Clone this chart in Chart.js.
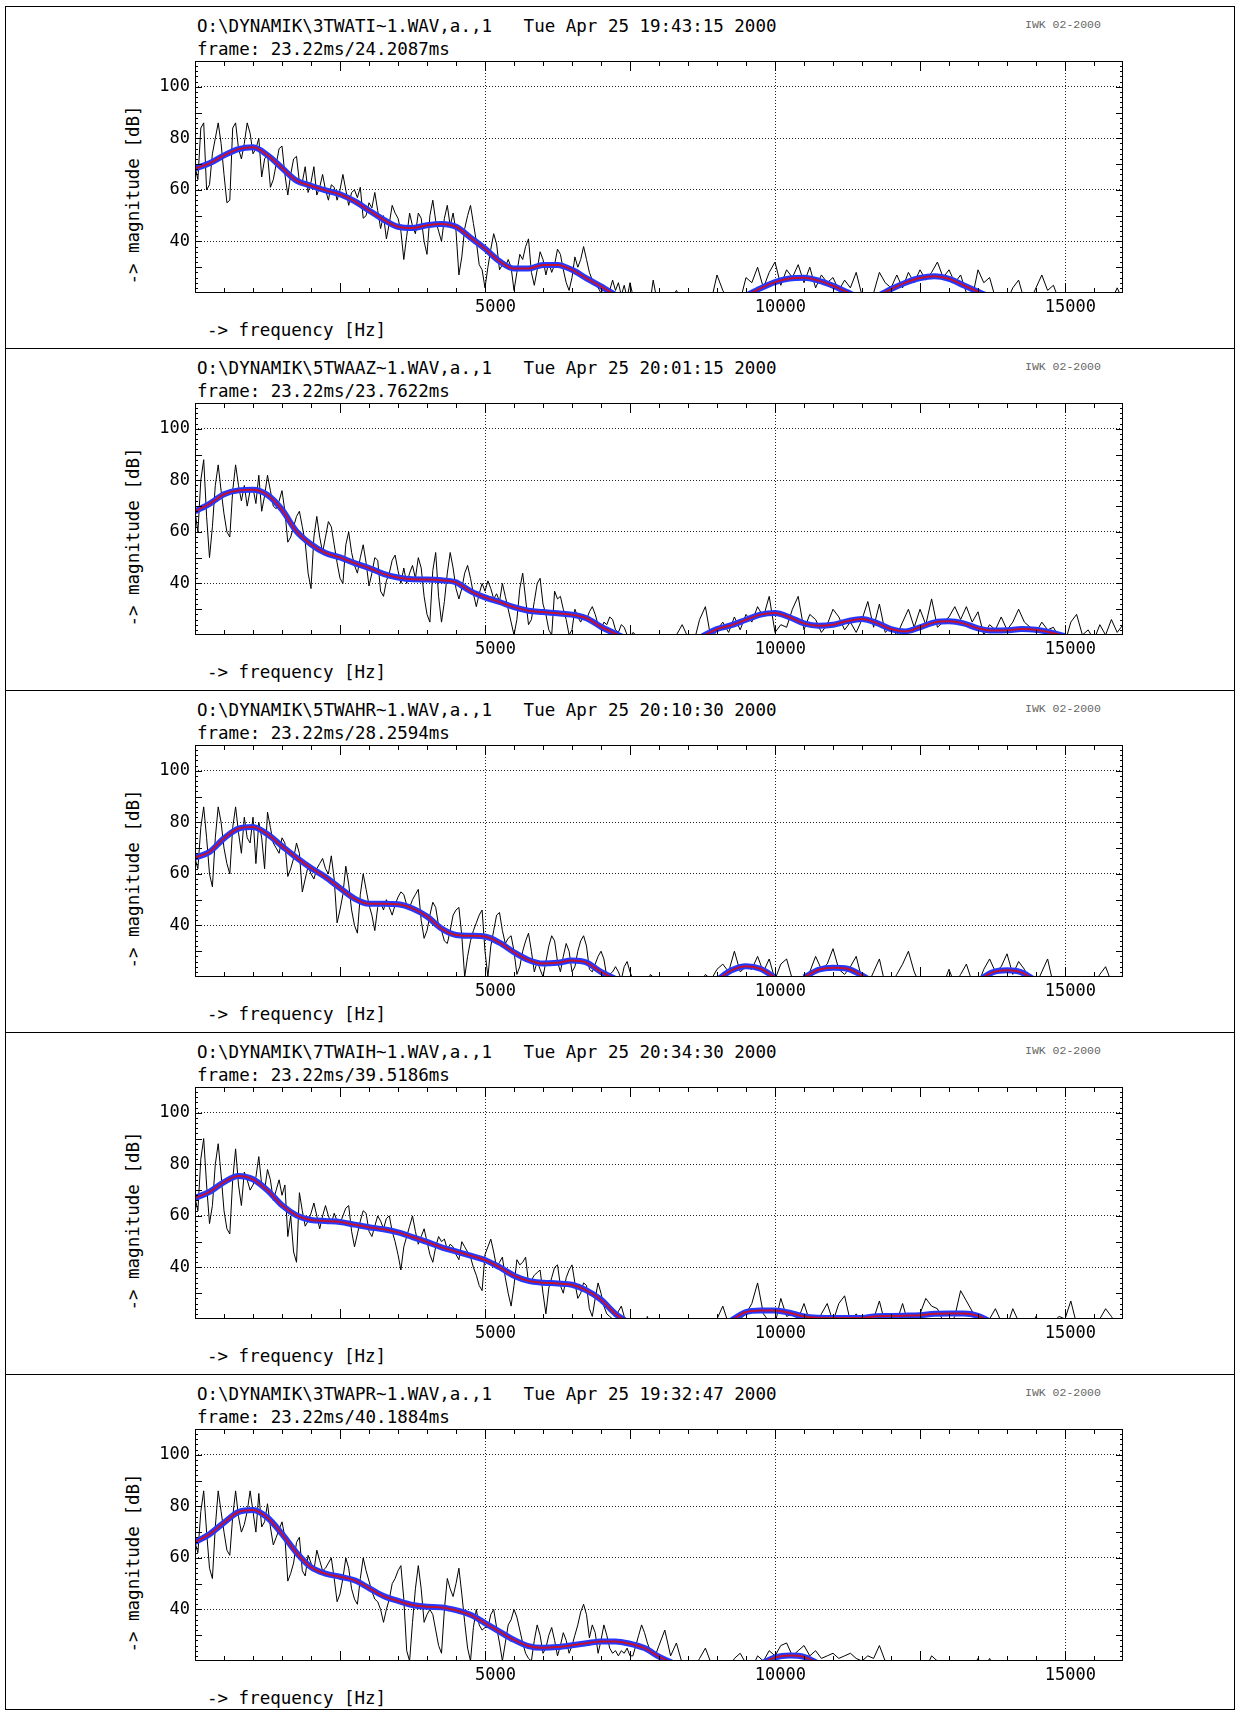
<!DOCTYPE html>
<html>
<head>
<meta charset="utf-8">
<script src="https://cdn.jsdelivr.net/npm/chart.js@4.4.0/dist/chart.umd.min.js"></script>
<style>
  body { margin: 0; background: #fff; }
  #page { position: relative; width: 1240px; height: 1711px; overflow: hidden; }
  .frame { position: absolute; left: 5px; top: 6px; width: 1230px; height: 1704px; border: 1px solid #000; box-sizing: border-box; }
  .sep { position: absolute; left: 5px; width: 1230px; height: 1px; background: #000; }
  .txt { position: absolute; font-family: 'DejaVu Sans Mono', monospace; font-size: 17.5px; line-height: 20px; white-space: pre; color: #000; }
  .iwk { position: absolute; font-family: 'Liberation Mono', monospace; font-size: 11.5px; line-height: 14px; color: #666; white-space: pre; }
  .ylab { width: 180px; text-align: center; transform: rotate(-90deg); }
  canvas { position: absolute; left: 0; }
</style>
</head>
<body>
<div id="page"><div class="frame"></div></div>
<script>
// spectrum: 50 Hz bins up to 8000 Hz, then 100 Hz bins from 8100 Hz
// envelope: every 250 Hz, null where it drops out
const LO_HZ = 50;
const HI_START = 8100;
const HI_HZ = 100;
const ENV_HZ = 250;

const xTicks = [5000, 10000, 15000];
const yTicks = [40, 60, 80, 100];

const files = [
  'O:\\DYNAMIK\\3TWATI~1.WAV,a.,1',
  'O:\\DYNAMIK\\5TWAAZ~1.WAV,a.,1',
  'O:\\DYNAMIK\\5TWAHR~1.WAV,a.,1',
  'O:\\DYNAMIK\\7TWAIH~1.WAV,a.,1',
  'O:\\DYNAMIK\\3TWAPR~1.WAV,a.,1'
];
const dates = [
  'Tue Apr 25 19:43:15 2000',
  'Tue Apr 25 20:01:15 2000',
  'Tue Apr 25 20:10:30 2000',
  'Tue Apr 25 20:34:30 2000',
  'Tue Apr 25 19:32:47 2000'
];
const frames = [
  'frame: 23.22ms/24.2087ms',
  'frame: 23.22ms/23.7622ms',
  'frame: 23.22ms/28.2594ms',
  'frame: 23.22ms/39.5186ms',
  'frame: 23.22ms/40.1884ms'
];

const lo1 = [
  69, 64, 84, 86, 60, 62, 74, 80, 86, 78,
  66, 55, 56, 84, 86, 76, 72, 78, 86, 82,
  74, 76, 80, 65, 72, 74, 61, 64, 70, 76,
  77, 66, 58, 66, 72, 73, 63, 63, 69, 59,
  63, 69, 58, 61, 66, 60, 56, 62, 61, 56,
  60, 66, 60, 54, 59, 60, 57, 61, 49, 50,
  55, 53, 59, 52, 45, 50, 41, 47, 54, 51,
  49, 44, 33, 42, 51, 46, 43, 51, 49, 40,
  35, 50, 56, 48, 44, 40, 49, 54, 46, 51,
  44, 27, 34, 45, 50, 54, 47, 40, 31, 29,
  22, 30, 37, 43, 39, 29, 31, 30, 33, 30,
  21, 28, 35, 33, 38, 41, 28, 23, 29, 36,
  33, 27, 32, 28, 31, 37, 35, 29, 24, 21,
  26, 34, 30, 33, 38, 33, 28, 25, 24, 22,
  20, 22, 19, 21, 25, 21, 24, 19, 23, 18,
  24, 19, 17, 17, 17, 20, 17, 17, 25, 19,
  17
];
const hi1 = [
      17, 17, 21, 17, 20, 17, 17, 17, 17,
  27, 21, 17, 17, 17, 26, 24, 30, 22, 28,
  32, 23, 29, 26, 31, 24, 30, 22, 27, 24,
  26, 21, 25, 22, 28, 19, 17, 20, 28, 24,
  22, 27, 22, 28, 24, 29, 25, 28, 32, 26,
  29, 24, 27, 20, 18, 29, 24, 26, 18, 17,
  17, 22, 25, 17, 17, 22, 27, 21, 23, 17,
  17, 17, 17, 17, 17, 17, 17, 17, 17, 22,
  17
];

const lo2 = [
  68, 60, 80, 88, 66, 50, 62, 78, 86, 76,
  67, 60, 58, 76, 86, 78, 72, 78, 70, 76,
  77, 71, 82, 68, 74, 82, 76, 70, 69, 72,
  76, 68, 56, 58, 62, 66, 68, 62, 56, 44,
  38, 58, 66, 58, 52, 58, 64, 62, 55, 48,
  42, 40, 55, 60, 52, 47, 44, 50, 55, 48,
  39, 44, 50, 49, 37, 35, 41, 44, 49, 51,
  45, 40, 46, 40, 44, 47, 42, 50, 46, 35,
  28, 25, 45, 52, 35, 25, 33, 44, 52, 46,
  38, 34, 38, 44, 47, 42, 36, 31, 36, 40,
  37, 41, 38, 34, 36, 33, 40, 35, 30, 25,
  20, 26, 38, 44, 34, 24, 26, 33, 40, 42,
  32, 28, 22, 20, 37, 34, 35, 30, 26, 20,
  22, 30, 27, 25, 28, 26, 29, 31, 28, 24,
  22, 25, 24, 27, 26, 22, 21, 24, 23, 20,
  19, 21, 20, 17, 17, 17, 17, 17, 17, 17,
  17
];
const hi2 = [
      17, 17, 20, 24, 19, 17, 26, 31, 18,
  22, 25, 21, 27, 22, 28, 25, 31, 27, 35,
  21, 24, 23, 30, 35, 22, 28, 26, 21, 24,
  30, 27, 22, 25, 21, 26, 33, 23, 32, 21,
  23, 20, 25, 30, 23, 30, 24, 34, 23, 25,
  27, 31, 26, 31, 25, 29, 20, 24, 22, 27,
  22, 25, 30, 25, 23, 21, 25, 22, 23, 19,
  17, 25, 28, 20, 22, 18, 24, 20, 26, 21,
  24
];

const lo3 = [
  66, 62, 78, 86, 74, 60, 55, 74, 86, 80,
  70, 64, 60, 78, 86, 76, 68, 82, 74, 72,
  82, 64, 80, 74, 62, 84, 78, 72, 70, 68,
  74, 72, 59, 62, 66, 72, 68, 53, 58, 63,
  60, 58, 62, 64, 66, 62, 60, 67, 58, 41,
  46, 52, 63, 56, 46, 40, 37, 52, 60, 54,
  48, 44, 38, 47, 49, 46, 50, 47, 44, 48,
  51, 53, 52, 48, 47, 50, 52, 54, 42, 35,
  38, 44, 49, 47, 40, 38, 34, 33, 38, 44,
  46, 47, 36, 20, 28, 34, 38, 41, 44, 46,
  30, 20, 32, 38, 44, 45, 38, 33, 35, 36,
  30, 21, 24, 30, 34, 37, 30, 22, 26, 23,
  20, 26, 32, 36, 34, 26, 22, 28, 33, 30,
  22, 24, 30, 34, 36, 32, 23, 22, 25, 28,
  30, 27, 20, 21, 22, 24, 22, 19, 24, 26,
  22, 19, 17, 17, 20, 17, 17, 21, 20, 17,
  17
];
const hi3 = [
      17, 17, 17, 17, 17, 17, 17, 21, 19,
  23, 25, 22, 30, 22, 24, 23, 28, 22, 27,
  19, 25, 27, 19, 17, 19, 22, 28, 23, 25,
  31, 23, 21, 24, 28, 19, 17, 22, 27, 17,
  17, 21, 25, 30, 22, 17, 17, 17, 17, 17,
  23, 17, 21, 25, 18, 17, 23, 27, 22, 24,
  29, 21, 26, 23, 18, 17, 22, 27, 17, 17,
  17, 17, 19, 17, 17, 17, 21, 24, 18, 17,
  21
];

const lo4 = [
  67, 62, 82, 90, 72, 57, 64, 80, 88, 76,
  62, 55, 53, 74, 86, 72, 64, 77, 74, 70,
  72, 75, 83, 72, 70, 78, 74, 66, 70, 74,
  68, 72, 52, 60, 46, 42, 69, 62, 56, 58,
  61, 65, 60, 55, 60, 64, 60, 57, 61, 58,
  57, 60, 63, 64, 54, 48, 53, 58, 62, 61,
  54, 52, 56, 60, 58, 55, 59, 60, 54, 50,
  45, 39, 48, 52, 56, 60, 54, 49, 52, 55,
  50, 45, 42, 48, 52, 50, 51, 47, 49, 48,
  45, 43, 50, 48, 46, 44, 40, 37, 33, 31,
  45, 48, 51, 46, 40, 42, 44, 36, 30, 25,
  33, 43, 41, 42, 44, 34, 35, 37, 38, 39,
  30, 22, 32, 36, 40, 41, 33, 30, 36, 39,
  41, 34, 28, 30, 34, 33, 24, 21, 28, 34,
  30, 25, 22, 21, 20, 19, 23, 25, 21, 19,
  17, 17, 17, 17, 17, 17, 21, 17, 17, 17,
  17
];
const hi4 = [
      17, 17, 20, 17, 17, 17, 17, 17, 17,
  20, 25, 18, 17, 20, 22, 26, 34, 22, 19,
  18, 28, 21, 22, 20, 26, 19, 17, 22, 26,
  19, 26, 29, 19, 22, 19, 17, 20, 27, 18,
  17, 19, 26, 18, 17, 22, 28, 25, 24, 19,
  17, 21, 31, 27, 23, 21, 18, 20, 24, 19,
  17, 24, 19, 17, 17, 21, 17, 17, 19, 21,
  20, 27, 18, 17, 17, 17, 20, 24, 21, 17,
  17
];

const lo5 = [
  66, 62, 78, 86, 70, 56, 52, 72, 86, 78,
  70, 63, 61, 76, 86, 76, 70, 73, 78, 86,
  78, 70, 85, 72, 74, 81, 72, 65, 68, 71,
  74, 68, 51, 54, 58, 66, 68, 55, 53, 61,
  58, 55, 63, 59, 55, 56, 58, 60, 52, 43,
  46, 52, 60, 56, 48, 44, 42, 52, 60, 55,
  51, 47, 44, 43, 40, 35, 40, 44, 50, 52,
  55, 57, 44, 24, 20, 35, 48, 57, 48, 35,
  38, 40, 38, 32, 26, 23, 40, 52, 48, 45,
  50, 56, 46, 35, 25, 20, 33, 40, 34, 32,
  33, 33, 38, 40, 33, 27, 20, 27, 34, 36,
  40, 37, 32, 27, 23, 21, 20, 28, 34, 30,
  23, 25, 30, 33, 28, 22, 26, 31, 28, 23,
  26, 30, 34, 39, 42, 38, 29, 34, 31, 23,
  28, 34, 30, 25, 23, 24, 22, 24, 23, 25,
  22, 22, 26, 30, 34, 31, 27, 24, 22, 23,
  26
];
const hi5 = [
      32, 22, 27, 19, 17, 17, 21, 25, 19,
  17, 17, 17, 21, 23, 19, 17, 22, 20, 24,
  22, 26, 27, 22, 24, 26, 22, 24, 21, 22,
  23, 21, 22, 23, 21, 20, 22, 21, 26, 20,
  18, 20, 18, 18, 17, 20, 17, 22, 20, 17,
  17, 17, 17, 17, 17, 21, 17, 21, 17, 17,
  17, 17, 17, 17, 17, 17, 17, 17, 17, 17,
  17, 17, 17, 17, 17, 17, 17, 17, 20, 17,
  17
];

const env1 = [
  68.3, 70.3, 73.4, 75.8, 76.5, 73.5, 68.5, 63.6, 61.6, 59.8,
  58.3, 55.6, 52.0, 48.5, 45.7, 45.2, 46.3, 46.8, 45.7, 41.5,
  37.2, 32.3, 29.5, 29.5, 30.9, 30.9, 29.0, 25.7, 22.6, 19.2,
  null, null, null, null, null, null, null, null, 19.0, 21.8,
  24.2, 25.6, 25.9, 24.8, 22.8, 20.3, 18.0, 18.8, 21.5, 24.0,
  25.8, 26.5, 25.5, 23.0, 20.5, 18.0, null, null, null, null,
  null, null, null, null, null
];
const env2 = [
  68.0, 70.9, 74.6, 76.1, 76.3, 74.3, 68.6, 60.2, 55.2, 51.8,
  50.1, 47.9, 46.0, 43.7, 42.3, 41.6, 41.5, 41.2, 40.4, 37.0,
  34.6, 32.8, 30.8, 29.4, 28.9, 28.4, 27.9, 26.5, 23.2, 20.5,
  18.0, null, null, null, null, 19.5, 22.3, 23.8, 25.9, 27.9,
  28.5, 26.9, 24.5, 23.6, 24.0, 25.4, 26.2, 24.7, 22.3, 21.4,
  23.0, 24.9, 25.3, 24.5, 22.6, 21.7, 21.8, 22.3, 22.0, 21.0,
  19.6, null, null, null, null
];
const env3 = [
  66.3, 68.5, 73.8, 77.6, 78.2, 75.4, 70.8, 66.3, 62.3, 58.8,
  54.5, 50.4, 48.4, 48.4, 48.2, 46.6, 43.5, 38.8, 36.3, 36.0,
  35.7, 33.3, 29.6, 26.6, 25.2, 25.5, 26.4, 25.6, 22.0, 19.2,
  null, null, null, null, null, null, 18.8, 22.6, 24.2, 23.2,
  19.8, null, 19.8, 22.8, 23.6, 23.2, 20.6, 17.0, null, null,
  null, null, null, null, 18.5, 21.8, 22.6, 21.8, 18.5, null,
  null, null, null, null, null
];
const env4 = [
  66.9, 69.3, 73.1, 75.5, 74.2, 69.9, 64.1, 60.2, 58.4, 58.0,
  57.6, 56.6, 55.6, 54.8, 53.6, 51.8, 49.9, 47.8, 46.2, 44.6,
  42.9, 40.1, 36.8, 34.8, 34.1, 33.8, 33.3, 31.1, 27.5, 22.0,
  18.0, null, null, null, null, null, null, 19.5, 22.7, 23.3,
  23.3, 22.4, 21.0, 20.5, 20.4, 20.4, 20.4, 21.1, 21.2, 21.3,
  21.5, 22.0, 22.1, 22.1, 21.2, 18.5, null, null, null, null,
  null, null, null, null, null
];
const env5 = [
  66.1, 69.2, 73.7, 77.8, 78.6, 75.6, 69.3, 62.0, 56.4, 53.9,
  52.7, 51.3, 48.3, 45.2, 43.3, 41.7, 41.0, 40.8, 39.7, 37.9,
  34.7, 31.4, 28.2, 25.8, 25.1, 25.4, 26.1, 26.9, 27.6, 27.6,
  26.7, 25.0, 21.7, 19.0, null, null, null, null, null, 18.8,
  21.4, 22.1, 21.6, 19.0, null, null, null, null, null, null,
  null, null, null, null, null, null, null, null, null, null,
  null, null, null, null, null
];

const los = [lo1, lo2, lo3, lo4, lo5];
const his = [hi1, hi2, hi3, hi4, hi5];
const envs = [env1, env2, env3, env4, env5];

const BLUE = '#2638ff';
const RED = '#c4122e';
const PANEL_TOP = 6;
const PANEL_H = 342;

Chart.defaults.font.family = "'DejaVu Sans Mono', monospace";
Chart.defaults.font.size = 17;
Chart.defaults.color = '#000';

// plot box and the small inward ticks on all four sides
const framePlugin = {
  id: 'frame',
  afterDraw(chart) {
    const { ctx, chartArea: a, scales: { x, y } } = chart;
    ctx.save();
    ctx.strokeStyle = '#000';
    ctx.lineWidth = 1;
    ctx.strokeRect(a.left + 0.5, a.top + 0.5, a.right - a.left - 1, a.bottom - a.top - 1);
    ctx.beginPath();
    for (let f = 500; f < 16000; f += 500) {
      const px = Math.round(x.getPixelForValue(f)) + 0.5;
      const len = f % 2500 === 0 ? 10 : 5;
      ctx.moveTo(px, a.top); ctx.lineTo(px, a.top + len);
      ctx.moveTo(px, a.bottom); ctx.lineTo(px, a.bottom - len);
    }
    for (let d = 22; d < 110; d += 2) {
      const py = Math.round(y.getPixelForValue(d)) + 0.5;
      const len = d % 10 === 0 ? 7 : 3;
      ctx.moveTo(a.left, py); ctx.lineTo(a.left + len, py);
      ctx.moveTo(a.right, py); ctx.lineTo(a.right - len, py);
    }
    ctx.stroke();
    ctx.restore();
  }
};

const page = document.getElementById('page');

function addText(cls, text, left, top) {
  const d = document.createElement('div');
  d.className = cls;
  d.textContent = text;
  d.style.left = left + 'px';
  d.style.top = top + 'px';
  page.appendChild(d);
  return d;
}

function drawPanel(i) {
  const top = PANEL_TOP + i * PANEL_H;
  if (i > 0) {
    const s = document.createElement('div');
    s.className = 'sep';
    s.style.top = top + 'px';
    page.appendChild(s);
  }
  addText('txt', files[i] + '   ' + dates[i], 197, top + 10);
  addText('txt', frames[i], 197, top + 33);
  addText('iwk', 'IWK 02-2000', 1025, top + 12);
  addText('txt', '-> frequency [Hz]', 207, top + 314);
  addText('txt ylab', '-> magnitude [dB]', 43, top + 179);

  const canvas = document.createElement('canvas');
  canvas.width = 1240;
  canvas.height = PANEL_H;
  canvas.style.top = top + 'px';
  page.appendChild(canvas);

  const specPts = los[i].map((v, k) => ({ x: k * LO_HZ, y: v }))
    .concat(his[i].map((v, k) => ({ x: HI_START + k * HI_HZ, y: v })));
  const envPts = envs[i].map((v, k) => ({ x: k * ENV_HZ, y: v }));

  new Chart(canvas, {
    type: 'line',
    data: {
      datasets: [
        { data: envPts, borderColor: RED, borderWidth: 2, order: 0, cubicInterpolationMode: 'monotone', clip: 0 },
        { data: envPts, borderColor: BLUE, borderWidth: 6, order: 1, cubicInterpolationMode: 'monotone', clip: 0 },
        { data: specPts, borderColor: '#000', borderWidth: 1, order: 2, tension: 0, clip: 0 }
      ]
    },
    options: {
      responsive: false,
      animation: false,
      devicePixelRatio: 1,
      elements: { point: { radius: 0 } },
      plugins: { legend: { display: false }, tooltip: { enabled: false } },
      layout: { padding: { left: 0, top: 55, right: 117, bottom: 25 } },
      scales: {
        x: {
          type: 'linear', min: 0, max: 16000,
          afterBuildTicks: s => { s.ticks = xTicks.map(v => ({ value: v })); },
          afterFit: s => { s.height = 30; },
          grid: { color: '#222', lineWidth: 1, drawTicks: false },
          border: { display: false, dash: [1, 2] },
          ticks: { padding: 4, align: 'end', labelOffset: 31, maxRotation: 0, autoSkip: false, callback: v => String(v) }
        },
        y: {
          min: 20, max: 110,
          afterBuildTicks: s => { s.ticks = yTicks.map(v => ({ value: v })); },
          afterFit: s => { s.width = 195; },
          grid: { color: '#222', lineWidth: 1, drawTicks: false },
          border: { display: false, dash: [1, 2] },
          ticks: { padding: 5, callback: v => String(v) }
        }
      }
    },
    plugins: [framePlugin]
  });
}

for (let i = 0; i < 5; i++) drawPanel(i);
</script>
</body>
</html>
